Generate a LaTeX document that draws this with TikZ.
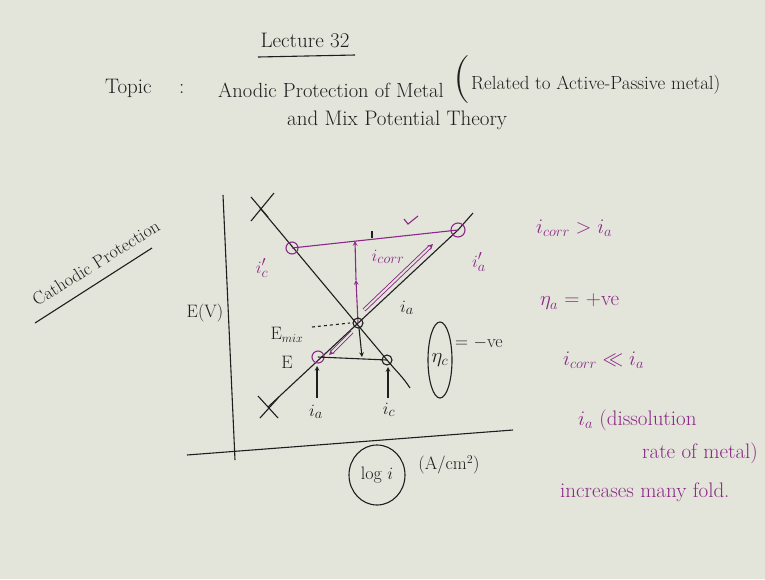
\documentclass[tikz,border=0pt]{standalone}
\usepackage{amsmath}
\usepackage{tikz}
\usetikzlibrary{arrows.meta,calc,positioning}
\definecolor{board}{RGB}{227,229,219}
\definecolor{ink}{RGB}{30,30,30}
\definecolor{pen}{RGB}{140,40,135}

\begin{document}
\begin{tikzpicture}[x=1pt, y=-1pt, >=stealth,
    hand/.style={text=ink, inner sep=0pt, font=\fontsize{18}{20}\selectfont},
    note/.style={text=pen, inner sep=0pt, font=\fontsize{21}{23}\selectfont},
    stroke/.style={line width=1.1pt}]
    \fill[board] (0,0) rectangle (765,579);
    \useasboundingbox (0,0) rectangle (765,579);
    % heading
    \node[hand, font=\fontsize{21}{23}\selectfont] (lect) at (305,40) {Lecture 32};
    \draw[ink, stroke] (258,57) -- (355,55);
    \node[hand, anchor=west, font=\fontsize{21}{23}\selectfont] (topic) at (105,88) {Topic\quad\ :};
    \node[hand, anchor=west, font=\fontsize{20.5}{23}\selectfont] (anodic) at (218,90) {Anodic Protection of Metal};
    \node[hand, anchor=west, font=\fontsize{48}{48}\selectfont] (paren) at (453,80) {(};
    \node[hand, anchor=west, font=\fontsize{19}{21}\selectfont] (related) at (471,85) {Related to Active-Passive metal)};
    \node[hand, anchor=west, font=\fontsize{21}{23}\selectfont] (mix) at (287,120) {and Mix Potential Theory};
    % side note
    \node[hand, rotate=32] (cathodic) at (96,263) {Cathodic Protection};
    \draw[ink, stroke] (35,323) -- (152,248);
    % axes
    \draw[ink, stroke] (223,195) -- (235,460);
    \draw[ink, stroke] (187,455) -- (513,430);
    \node[hand] (ev) at (205,313) {E(V)};
    \node[hand] (logi) at (377,475) {log $i$};
    \draw[ink, stroke] (logi) ellipse (28pt and 30pt);
    \node[hand] (unit) at (449,465) {(A/cm$^2$)};
    % polarization lines
    \coordinate (xc) at (260,208);
    \coordinate (xa) at (268,407);
    \coordinate (emix) at (358,323);
    \coordinate (ia) at (318,357);
    \coordinate (ic) at (387,360);
    \coordinate (iap) at (458,230);
    \coordinate (icp) at (292,248);
    \draw[ink, stroke] (xc) -- (ic) .. controls (396,371) and (403,377) .. (410,388);
    \draw[ink, stroke] (xa) -- (iap) -- (473,213);
    \draw[ink, stroke] ($(xc)+(-9,-11)$) -- ($(xc)+(8,9)$) ($(xc)+(-9,13)$) -- ($(xc)+(14,-15)$);
    \draw[ink, stroke] ($(xa)+(-10,-11)$) -- ($(xa)+(10,11)$) ($(xa)+(-8,11)$) -- ($(xa)+(10,-9)$);
    % purple construction
    \draw[pen, stroke] (icp) -- (iap);
    \draw[pen, stroke] (icp) circle (6pt) (iap) circle (7pt) (ia) circle (6pt);
    \draw[pen, stroke] (404,219) -- (408,224) -- (418,216);
    \draw[ink, stroke] (372,231) -- (372,238);
    \draw[pen, stroke, ->] (emix) -- (356,280);
    \draw[pen, stroke, ->] (356,280) -- (355,241);
    \draw[pen, line width=0.9pt, double=board, double distance=2pt, ->] (364,310) -- (433,244);
    \draw[pen, line width=0.9pt, double=board, double distance=2pt, ->] (352,332) -- (329,355);
    \node[note, font=\fontsize{19}{21}\selectfont] (icorr) at (388,257) {$i_{corr}$};
    \node[note, font=\fontsize{19}{21}\selectfont] (icpl) at (262,268) {$i_c'$};
    \node[note, font=\fontsize{19}{21}\selectfont] (iapl) at (479,262) {$i_a'$};
    % black construction
    \draw[ink, stroke] (emix) circle (5pt) (ic) circle (5pt);
    \draw[ink, stroke] (ia) -- (ic);
    \draw[ink, stroke, ->] (359,328) -- (362,357);
    \draw[ink, dashed, stroke] (312,327) -- (350,323);
    \node[hand] (emixl) at (287,335) {E$_{mix}$};
    \node[hand] (el) at (287,362) {E};
    \node[hand, font=\fontsize{19}{21}\selectfont] (ial) at (407,308) {$i_a$};
    \draw[ink, stroke, ->] (317,398) -- (317,366);
    \draw[ink, stroke, ->] (388,398) -- (388,367);
    \node[hand, font=\fontsize{19}{21}\selectfont] (ialow) at (316,412) {$i_a$};
    \node[hand, font=\fontsize{19}{21}\selectfont] (iclow) at (389,410) {$i_c$};
    \node[hand, font=\fontsize{20}{22}\selectfont] (etac) at (440,360) {$\eta_c$};
    \draw[ink, stroke] (etac) ellipse (12pt and 38pt);
    \node[hand, anchor=west] (neg) at (455,343) {= $-$ve};
    % right notes
    \node[note, anchor=west] (n1) at (536,228) {$i_{corr} > i_a$};
    \node[note, anchor=west] (n2) at (540,302) {$\eta_a$ = +ve};
    \node[note, anchor=west] (n3) at (563,360) {$i_{corr} \ll i_a$};
    \node[note, anchor=west] (n4) at (578,420) {$i_a$ (dissolution};
    \node[note, anchor=west] (n5) at (642,453) {rate of metal)};
    \node[note, anchor=west] (n6) at (560,492) {increases many fold.};
\end{tikzpicture}
\end{document}
